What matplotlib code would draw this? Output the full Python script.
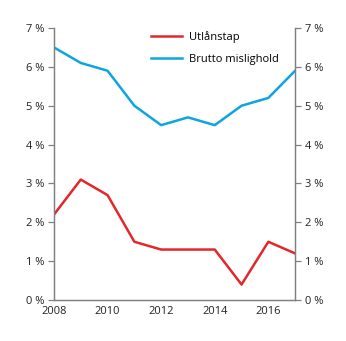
import matplotlib
matplotlib.use("Agg")
import matplotlib.pyplot as plt
from matplotlib.ticker import FuncFormatter

years = [2008, 2009, 2010, 2011, 2012, 2013, 2014, 2015, 2016, 2017]
utlanstap = [2.2, 3.1, 2.7, 1.5, 1.3, 1.3, 1.3, 0.4, 1.5, 1.2]
brutto_mislighold = [6.5, 6.1, 5.9, 5.0, 4.5, 4.7, 4.5, 5.0, 5.2, 5.9]
xtick_years = [2008, 2010, 2012, 2014, 2016]

red = "#e3272a"
blue = "#0ea5de"
grey = "#808080"
plt.rcParams['font.family'] = ['Open Sans', 'DejaVu Sans']

fig = plt.figure(figsize=(3.46, 3.41), dpi=100)
ax = fig.add_axes([0.156, 0.12, 0.697, 0.798])

ax.plot(years, utlanstap, color=red, lw=1.8, label="Utlånstap")
ax.plot(years, brutto_mislighold, color=blue, lw=1.8, label="Brutto mislighold")

ax.set_xlim(2008, 2017)
ax.set_ylim(0, 7)
ax.set_xticks(xtick_years)
ax.set_yticks(range(0, 8))
pct = FuncFormatter(lambda v, p: f"{int(v)} %")
ax.yaxis.set_major_formatter(pct)

ax2 = ax.twinx()
ax2.set_ylim(0, 7)
ax2.set_yticks(range(0, 8))
ax2.yaxis.set_major_formatter(pct)

for a in (ax, ax2):
    a.spines['top'].set_visible(False)
    for s in ('left', 'right', 'bottom'):
        a.spines[s].set_color(grey)
        a.spines[s].set_linewidth(0.9)
    a.tick_params(axis='y', length=4, width=0.9, color=grey, labelsize=8,
                  labelcolor="#222222", pad=3)
ax.tick_params(axis='x', length=0, labelsize=8, labelcolor="#222222", pad=4)

ax.legend(loc='upper left', bbox_to_anchor=(0.36, 1.025), frameon=False,
          fontsize=8, handlelength=2.8, handletextpad=0.6, labelspacing=1.0)

fig.savefig("out.png", dpi=100)
